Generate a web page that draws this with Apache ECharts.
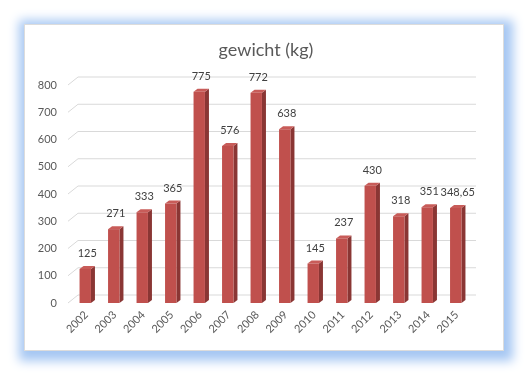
<!DOCTYPE html>
<html>
<head>
<meta charset="utf-8">
<script src="https://cdn.jsdelivr.net/npm/echarts@6/dist/echarts.min.js"></script>
<style>
html,body{margin:0;padding:0;background:#fff;width:528px;height:375px;overflow:hidden;}
#frame{position:absolute;left:24px;top:24px;width:478px;height:325px;background:#fff;border:1px solid #dcdcdc;box-shadow:2px 3px 10px 7px #a6c7f3;}
#chart{position:absolute;left:0;top:0;width:528px;height:375px;}
</style>
</head>
<body>
<div id="frame"></div>
<div id="chart"></div>
<script>
const categories = ['2002','2003','2004','2005','2006','2007','2008','2009','2010','2011','2012','2013','2014','2015'];
const values = [125, 271, 333, 365, 775, 576, 772, 638, 145, 237, 430, 318, 351, 348.65];
const yTicks = [0, 100, 200, 300, 400, 500, 600, 700, 800];

const chart = echarts.init(document.getElementById('chart'), null, {renderer: 'canvas'});
const FONT = 'Lato, "Open Sans", sans-serif';

function fmt(v){ return String(v).replace('.', ','); }

const option = {
  backgroundColor: 'transparent',
  animation: false,
  title: {
    text: 'gewicht (kg)',
    left: 261, top: 36, textAlign: 'center',
    textStyle: {fontFamily: FONT, fontSize: 18, fontWeight: 'normal', color: '#595959'}
  },
  grid: {left: 72, right: 57, top: 85, bottom: 72},
  xAxis: {
    type: 'category', data: categories, boundaryGap: true,
    axisLine: {show: false}, axisTick: {show: false},
    axisLabel: {rotate: 45, margin: 10, fontFamily: FONT, fontSize: 11, color: '#595959'}
  },
  yAxis: {
    type: 'value', min: 0, max: 800, interval: 100,
    splitLine: {show: false}, axisLine: {show: false}, axisTick: {show: false},
    axisLabel: {margin: 15, fontFamily: FONT, fontSize: 11, color: '#595959'}
  },
  series: [
    {
      type: 'custom', z: 1, silent: true,
      data: yTicks.map(v => [0, v]),
      renderItem: function(params, api){
        const cs = params.coordSys;
        const y = api.coord([0, api.value(1)])[1];
        const x0 = cs.x - 4;
        return {
          type: 'polyline',
          shape: {points: [[x0, y], [x0 + 10, y - 8], [cs.x + cs.width + 5, y - 8]]},
          style: {stroke: '#d9d9d9', lineWidth: 1, fill: null}
        };
      }
    },
    {
      type: 'custom', z: 2, silent: true,
      data: values.map((v, i) => [i, v]),
      renderItem: function(params, api){
        const idx = api.value(0), v = api.value(1);
        const top = api.coord([idx, v]);
        const bot = api.coord([idx, 0]);
        const band = api.size([1, 0])[0];
        const w = band * 0.40;
        const dx = 4, dy = 3;
        const x0 = top[0] - w / 2 - 1;
        const x1 = x0 + w;
        return {
          type: 'group',
          children: [
            {type: 'polygon', shape: {points: [[x1, top[1]], [x1 + dx, top[1] - dy], [x1 + dx, bot[1] - dy], [x1, bot[1]]]},
             style: {fill: '#8a3634'}},
            {type: 'polygon', shape: {points: [[x0, top[1]], [x0 + dx, top[1] - dy], [x1 + dx, top[1] - dy], [x1, top[1]]]},
             style: {fill: '#c85c59'}},
            {type: 'rect', shape: {x: x0, y: top[1], width: w, height: bot[1] - top[1]},
             style: {fill: '#c0504d'}},
            {type: 'text', x: x0 + (w + dx) / 2, y: top[1] - 10,
             style: {text: fmt(values[params.dataIndex]), fill: '#404040', fontFamily: FONT, fontSize: 11,
                     align: 'center', verticalAlign: 'bottom'}}
          ]
        };
      }
    }
  ]
};
chart.setOption(option);
</script>
</body>
</html>
